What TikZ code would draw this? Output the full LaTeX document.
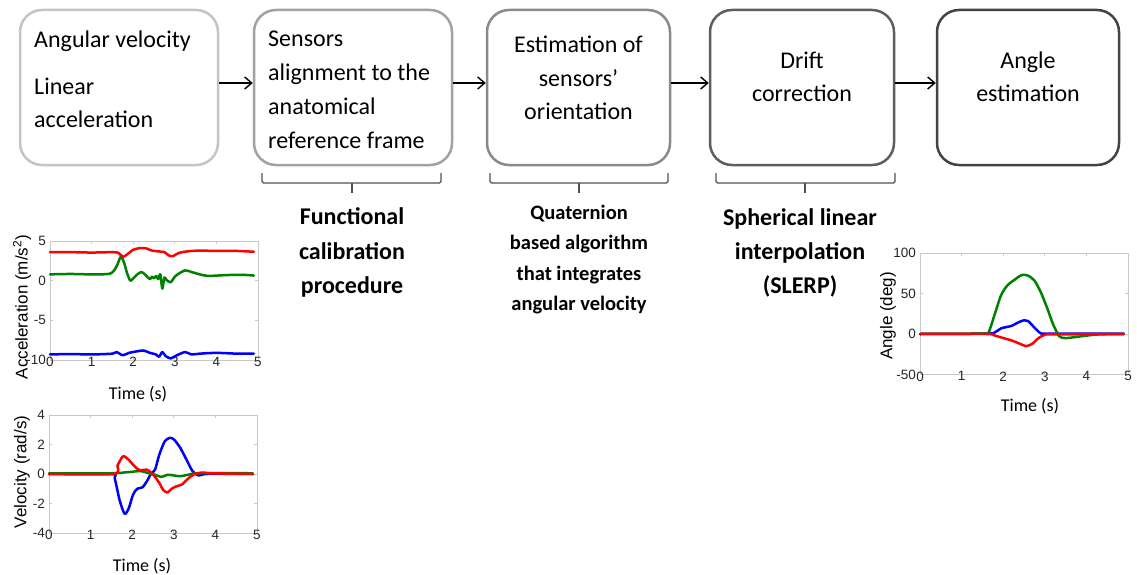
\documentclass[tikz,border=0pt]{standalone}
\usepackage{fontspec}
\setmainfont{Carlito}
\newfontfamily\axfont{Liberation Sans}
\usetikzlibrary{arrows.meta}
\definecolor{bcA}{HTML}{C4C4C4}
\definecolor{bcB}{HTML}{A2A2A2}
\definecolor{bcC}{HTML}{8A8A8A}
\definecolor{bcD}{HTML}{5E5E5E}
\definecolor{bcE}{HTML}{444444}
\definecolor{bracegray}{HTML}{505050}
\definecolor{axgray}{HTML}{C8C8C8}
\definecolor{mred}{HTML}{FF0000}
\definecolor{mgreen}{HTML}{008000}
\definecolor{mblue}{HTML}{0000FF}
\begin{document}
\begin{tikzpicture}[x=1pt,y=-1pt,
  box/.style={draw, line width=2.5pt, rounded corners=22pt, minimum height=155pt, inner sep=0pt, fill=white},
  boxtxt/.style={font=\fontsize{24}{29}\selectfont, inner sep=0pt},
  boldtxt/.style={font=\fontsize{24}{29}\selectfont\bfseries, inner sep=0pt, anchor=base},
  smalltxt/.style={font=\fontsize{20.5}{25}\selectfont\bfseries, inner sep=0pt, anchor=base},
  flow/.style={-{Straight Barb[length=7pt,width=12pt]}, line width=1.4pt},
  bracket/.style={draw=bracegray, line width=1.2pt, rounded corners=1.5pt},
  axisbox/.style={draw=axgray, line width=0.9pt},
  tickmark/.style={draw=axgray, line width=0.8pt},
  ticklab/.style={font=\axfont\fontsize{13.5}{15}\selectfont, inner sep=0pt, text=black!85},
  ylab/.style={font=\axfont\fontsize{17}{20}\selectfont, inner sep=0pt, rotate=90},
  tlab/.style={font=\fontsize{18}{22}\selectfont, inner sep=0pt, anchor=base},
  curve/.style={line width=2.5pt, line join=round, line cap=round, smooth, tension=0.45}
]
\useasboundingbox (0,0) rectangle (1137,575);

% ---------- process boxes ----------
\node[box, draw=bcA, minimum width=198pt] (b1) at (119,87.5) {};
\node[box, draw=bcB, minimum width=198pt] (b2) at (353,87.5) {};
\node[box, draw=bcC, minimum width=183pt] (b3) at (578.5,87.5) {};
\node[box, draw=bcD, minimum width=184pt] (b4) at (802,87.5) {};
\node[box, draw=bcE, minimum width=182pt] (b5) at (1028,87.5) {};

\node[boxtxt, anchor=base west] (t1a) at (34,48) {Angular velocity};
\node[boxtxt, anchor=base west] (t1b) at (34,95) {Linear};
\node[boxtxt, anchor=base west] (t1c) at (34,128) {acceleration};

\node[boxtxt, anchor=base west] (t2a) at (268,47) {Sensors};
\node[boxtxt, anchor=base west] (t2b) at (268,81) {alignment to the};
\node[boxtxt, anchor=base west] (t2c) at (268,115) {anatomical};
\node[boxtxt, anchor=base west] (t2d) at (268,149) {reference frame};

\node[boxtxt, anchor=base] (t3a) at (578.5,53) {Estimation of};
\node[boxtxt, anchor=base] (t3b) at (578.5,87) {sensors’};
\node[boxtxt, anchor=base] (t3c) at (578.5,120) {orientation};

\node[boxtxt, anchor=base] (t4a) at (802,69) {Drift};
\node[boxtxt, anchor=base] (t4b) at (802,102) {correction};

\node[boxtxt, anchor=base] (t5a) at (1028,69) {Angle};
\node[boxtxt, anchor=base] (t5b) at (1028,102) {estimation};

% ---------- arrows ----------
\coordinate (arrowrow) at (0,83);
\draw[flow] (b1.east |- arrowrow) -- (b2.west |- arrowrow);
\draw[flow] (b2.east |- arrowrow) -- (b3.west |- arrowrow);
\draw[flow] (b3.east |- arrowrow) -- (b4.west |- arrowrow);
\draw[flow] (b4.east |- arrowrow) -- (b5.west |- arrowrow);

% ---------- brackets ----------
\draw[bracket] (262,173) -- (262,183) -- (441,183) -- (441,173);
\draw[bracket] (352,183) -- (352,193);
\draw[bracket] (490,173) -- (490,183) -- (668,183) -- (668,173);
\draw[bracket] (579,183) -- (579,193);
\draw[bracket] (716,173) -- (716,183) -- (895,183) -- (895,173);
\draw[bracket] (805,183) -- (805,193);

% ---------- method labels ----------
\node[boldtxt] (m1a) at (352,224) {Functional};
\node[boldtxt] (m1b) at (352,259) {calibration};
\node[boldtxt] (m1c) at (352,293) {procedure};

\node[smalltxt] (m2a) at (579,219) {Quaternion};
\node[smalltxt] (m2b) at (579,249) {based algorithm};
\node[smalltxt] (m2c) at (579,280) {that integrates};
\node[smalltxt] (m2d) at (579,310) {angular velocity};

\node[boldtxt] (m3a) at (800,225) {Spherical linear};
\node[boldtxt] (m3b) at (800,259) {interpolation};
\node[boldtxt] (m3c) at (800,293) {(SLERP)};

% ---------- acceleration plot ----------
\begin{scope}[shift={(50,280.7)}, x=41.6pt, y=7.93pt]
  \draw[axisbox] (0,-10) rectangle (5,5);
  \foreach \t in {1,...,4} {
    \draw[tickmark] (\t,-10) -- ++(0pt,3pt);
    \draw[tickmark] (\t,5) -- ++(0pt,-3pt);
  }
  \foreach \v in {-5,0} {
    \draw[tickmark] (0,\v) -- ++(3pt,0pt);
    \draw[tickmark] (5,\v) -- ++(-3pt,0pt);
  }
  \foreach \t in {0,...,5} \node[ticklab, anchor=north, yshift=3pt] (ax\t) at (\t,-10) {\t};
  \foreach \v in {5,0,-5,-10} \node[ticklab, anchor=east, xshift=-4pt] (ay\v) at (0,\v) {\v};
  \draw[curve, mblue] plot coordinates {(0,-9.3) (0.5,-9.25) (1.0,-9.3) (1.5,-9.2) (1.6,-9.0) (1.75,-9.4) (1.9,-9.1) (2.1,-8.9) (2.25,-8.8) (2.4,-9.1) (2.55,-9.3) (2.62,-9.6) (2.7,-9.0) (2.78,-9.5) (2.9,-9.8) (3.05,-9.4) (3.25,-9.0) (3.4,-9.3) (3.6,-9.2) (4.0,-9.1) (4.5,-9.2) (4.9,-9.2)};
  \draw[curve, mgreen] plot coordinates {(0,0.8) (0.5,0.85) (1.0,0.8) (1.45,0.9) (1.6,1.8) (1.7,3.0) (1.78,2.3) (1.85,1.0) (1.93,0.0) (2.0,0.3) (2.1,0.8) (2.2,1.1) (2.3,0.7) (2.4,0.2) (2.45,0.5) (2.5,0.3) (2.55,0.6) (2.6,0.2) (2.65,0.8) (2.7,-1.0) (2.75,0.4) (2.8,0.1) (2.9,-0.2) (3.0,0.5) (3.1,0.9) (3.25,1.3) (3.4,1.1) (3.6,0.8) (3.8,0.6) (4.2,0.7) (4.6,0.75) (4.9,0.65)};
  \draw[curve, mred] plot coordinates {(0,3.6) (0.5,3.6) (1.0,3.55) (1.5,3.6) (1.65,3.5) (1.75,3.0) (1.85,3.3) (2.0,3.9) (2.15,4.1) (2.3,4.1) (2.45,3.8) (2.6,3.7) (2.75,3.6) (2.85,3.2) (2.95,3.1) (3.1,3.5) (3.3,3.7) (3.6,3.8) (4.0,3.75) (4.5,3.75) (4.9,3.65)};
\end{scope}
\node[ylab] (acclab) at (22,307) {Acceleration (m/s\textsuperscript{2})};
\node[tlab] (acct) at (138,399) {Time (s)};

% ---------- velocity plot ----------
\begin{scope}[shift={(49,474)}, x=41.6pt, y=14.75pt]
  \draw[axisbox] (0,-4) rectangle (5,4);
  \foreach \t in {1,...,4} {
    \draw[tickmark] (\t,-4) -- ++(0pt,3pt);
    \draw[tickmark] (\t,4) -- ++(0pt,-3pt);
  }
  \foreach \v in {-2,0,2} {
    \draw[tickmark] (0,\v) -- ++(3pt,0pt);
    \draw[tickmark] (5,\v) -- ++(-3pt,0pt);
  }
  \foreach \t in {0,...,5} \node[ticklab, anchor=north, yshift=3pt] (vx\t) at (\t,-4) {\t};
  \foreach \v in {4,2,0,-2,-4} \node[ticklab, anchor=east, xshift=-4pt] (vy\v) at (0,\v) {\v};
  \draw[curve, mblue] plot coordinates {(0,0) (1.5,0) (1.58,-0.3) (1.7,-1.8) (1.82,-2.7) (1.92,-2.3) (2.02,-1.4) (2.12,-1.0) (2.25,-0.9) (2.35,-0.5) (2.45,0.0) (2.55,0.3) (2.65,1.3) (2.78,2.2) (2.9,2.45) (3.0,2.35) (3.15,1.8) (3.3,1.0) (3.45,0.2) (3.6,-0.1) (3.8,0.0) (4.9,0.0)};
  \draw[curve, mgreen] plot coordinates {(0,0.05) (1.5,0.05) (1.8,0.1) (2.0,0.15) (2.2,0.2) (2.4,0.05) (2.55,-0.05) (2.7,-0.2) (2.85,-0.05) (3.0,-0.1) (3.15,-0.15) (3.35,-0.05) (3.6,0.05) (4.9,0.05)};
  \draw[curve, mred] plot coordinates {(0,0) (1.55,0) (1.65,0.6) (1.78,1.2) (1.9,1.0) (2.0,0.7) (2.1,0.4) (2.2,0.25) (2.35,0.3) (2.45,0.1) (2.55,-0.2) (2.65,-0.6) (2.75,-1.1) (2.85,-1.25) (2.95,-1.0) (3.05,-0.85) (3.2,-0.7) (3.35,-0.3) (3.5,0.0) (3.7,0.1) (3.9,0.05) (4.9,0.0)};
\end{scope}
\node[ylab] (vellab) at (22,472) {Velocity (rad/s)};
\node[tlab] (velt) at (142,571) {Time (s)};

% ---------- angle plot ----------
\begin{scope}[shift={(920,334)}, x=41.6pt, y=0.81pt]
  \draw[axisbox] (0,-50) rectangle (5,100);
  \foreach \t in {1,...,4} {
    \draw[tickmark] (\t,-50) -- ++(0pt,3pt);
    \draw[tickmark] (\t,100) -- ++(0pt,-3pt);
  }
  \foreach \v in {0,50} {
    \draw[tickmark] (0,\v) -- ++(3pt,0pt);
    \draw[tickmark] (5,\v) -- ++(-3pt,0pt);
  }
  \foreach \t in {0,...,5} \node[ticklab, anchor=north, yshift=3pt] (gx\t) at (\t,-50) {\t};
  \foreach \v in {100,50,0,-50} \node[ticklab, anchor=east, xshift=-4pt] (gy\v) at (0,\v) {\v};
  \draw[curve, mblue] plot coordinates {(0,0) (1.6,0.5) (1.8,2) (1.95,7) (2.2,10) (2.35,14) (2.5,17) (2.6,16) (2.75,8) (2.9,1) (3.1,0.5) (4.9,0.5)};
  \draw[curve, mgreen] plot coordinates {(0,0) (1.55,0.5) (1.65,2) (1.8,25) (1.95,48) (2.1,60) (2.3,68) (2.45,73) (2.6,72) (2.75,66) (2.9,52) (3.05,33) (3.2,12) (3.35,-3) (3.5,-5) (3.7,-4) (4.0,-2) (4.3,-0.5) (4.9,0)};
  \draw[curve, mred] plot coordinates {(0,0) (1.6,0) (1.8,-2) (2.0,-5) (2.2,-8) (2.4,-12) (2.55,-15) (2.7,-12) (2.85,-5) (3.0,-1) (3.2,-0.5) (4.9,0)};
\end{scope}
\node[ylab] (anglab) at (888,316) {Angle (deg)};
\node[tlab] (angt) at (1030,411) {Time (s)};
\end{tikzpicture}
\end{document}
